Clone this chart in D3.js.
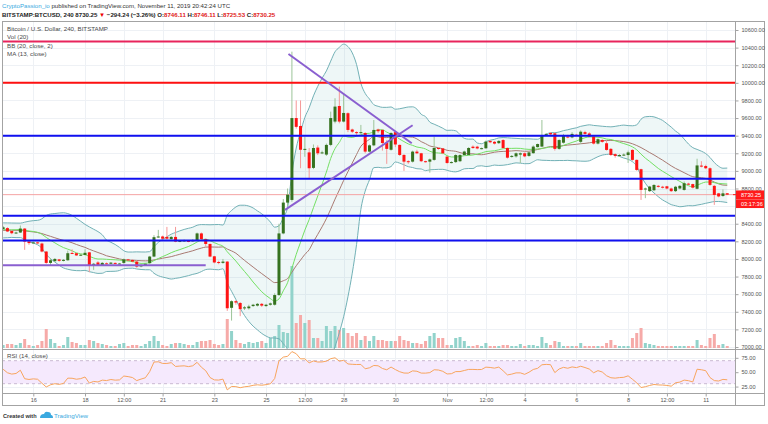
<!DOCTYPE html>
<html><head><meta charset="utf-8">
<script src="https://cdnjs.cloudflare.com/ajax/libs/d3/7.8.5/d3.min.js"></script>
<style>
body{margin:0;background:#fff}
svg{display:block}
text{font-family:"Liberation Sans",Arial,sans-serif}
</style>
</head><body>
<svg id="c" width="768" height="424"></svg>
<script>
// ---------------- DATA ----------------
// 4h candles, BITSTAMP:BTCUSD, first bar Oct 14 2019 20:00 UTC
const firstBarUTC = Date.UTC(2019, 9, 14, 20);
const barHours = 4;
const opens = [8340,8350,8318,8292,8300,8345,8197,8180,8188,8175,8084,7955,7975,7995,7978,7985,8068,8065,8040,8045,
8075,7920,7960,7930,7950,7945,7955,7945,7955,7995,7988,7970,7915,7930,7952,8027,8250,8255,8250,8225,
8250,8200,8205,8205,8200,8215,8290,8225,8170,8030,7965,7955,7970,7445,7520,7500,7440,7440,7465,7470,
7490,7465,7480,7480,7590,8290,8640,8670,9600,9510,9240,9210,9034,9265,9200,9185,9295,9560,9737,9560,
9655,9470,9440,9430,9430,9219,9290,9470,9465,9320,9240,9440,9295,9181,9110,9105,9219,9200,9110,9105,
9125,9260,9255,9162,9095,9100,9110,9180,9181,9275,9275,9255,9257,9340,9330,9315,9350,9260,9160,9165,
9185,9200,9170,9201,9270,9276,9410,9430,9427,9250,9320,9390,9380,9410,9330,9440,9425,9390,9310,9350,
9314,9250,9190,9170,9180,9180,9238,9125,9019,8790,8770,8780,8830,8820,8825,8800,8770,8800,8784,8855,
8850,8797,9060,9055,9030,8830,8745,8715,8746.11];
const highs = [8375,8360,8322,8310,8380,8350,8205,8200,8195,8185,8090,8010,8010,8000,7998,8095,8110,8070,8055,8110,
8080,7955,7975,7965,7960,7965,7960,7955,8005,8000,7995,7980,7940,7955,8035,8270,8330,8265,8364,8260,
8364,8215,8220,8215,8225,8300,8300,8230,8175,8035,7980,8000,7975,7530,7530,7510,7465,7480,7490,7500,
7500,7490,7505,7610,8400,8680,8800,10354,9800,9800,9390,9260,9300,9290,9230,9310,9673,9825,9957,9880,
9665,9480,9450,9522,9440,9300,9578,9480,9470,9350,9440,9445,9300,9190,9120,9230,9240,9205,9115,9140,
9390,9270,9260,9170,9110,9190,9190,9230,9270,9290,9285,9265,9345,9350,9340,9350,9360,9265,9180,9210,
9210,9210,9220,9290,9310,9578,9430,9440,9435,9360,9420,9410,9440,9420,9460,9455,9440,9400,9370,9360,
9345,9260,9200,9190,9200,9230,9245,9130,9025,8810,8830,8850,8840,8830,8830,8810,8830,8840,8880,8865,
8855,9138,9110,9070,9040,8840,8750,8790,8746.11];
const lows = [8330,8305,8280,8285,8295,8103,8160,8170,8172,8075,7945,7930,7965,7968,7972,7980,8055,8035,8035,8040,
7850,7876,7920,7925,7935,7940,7938,7940,7945,7978,7962,7900,7905,7925,7945,8020,8240,8225,8220,8220,
8190,8190,8195,8190,8195,8210,8215,8140,8020,7950,7940,7945,7410,7300,7480,7350,7420,7425,7455,7460,
7455,7455,7470,7470,7580,8280,8600,8650,9480,9030,9160,8920,9020,9180,9190,9170,9280,9540,9540,9550,
9440,9430,9410,9420,9200,9210,9280,9430,9230,9080,9230,9270,9170,9000,9080,9095,9190,9100,9095,8980,
9115,9240,9190,9080,9085,9090,9100,9170,9175,9250,9245,9245,9250,9315,9300,9305,9250,9140,9150,9150,
9090,9155,9160,9195,9265,9270,9400,9405,9230,9240,9310,9370,9370,9395,9305,9410,9380,9300,9300,9320,
9230,9170,9150,9160,9170,9090,9115,9000,8670,8690,8760,8770,8810,8800,8790,8760,8760,8790,8775,8840,
8800,8790,9040,9020,8830,8614,8700,8705,8725.53];
const closes = [8360,8312,8292,8300,8345,8197,8180,8188,8180,8084,7955,7985,8000,7978,7990,8065,8062,8040,8048,8070,
7921,7945,7930,7955,7945,7958,7945,7948,7995,7985,7970,7913,7930,7945,8027,8247,8255,8230,8230,8250,
8197,8205,8210,8200,8215,8290,8225,8170,8027,7960,7955,7970,7440,7520,7505,7430,7450,7460,7480,7490,
7470,7480,7495,7590,8290,8640,8730,9600,9500,9240,9250,9030,9260,9200,9210,9295,9600,9730,9560,9658,
9465,9445,9435,9440,9219,9290,9465,9450,9317,9250,9430,9300,9181,9105,9100,9219,9200,9110,9108,9130,
9260,9250,9200,9090,9100,9180,9180,9220,9260,9260,9255,9258,9332,9325,9310,9340,9260,9150,9170,9200,
9200,9165,9210,9276,9305,9408,9420,9415,9250,9350,9400,9380,9420,9405,9445,9420,9390,9310,9360,9330,
9238,9181,9170,9180,9185,9210,9125,9011,8784,8800,8822,8840,8820,8815,8800,8770,8820,8830,8860,8845,
8810,9062,9050,9030,8841,8727,8710,8745,8730.25];
const volumes = [600,800,800,600,1000,1800,600,400,600,1400,3800,1800,1000,400,600,2200,1200,1000,600,600,
1600,1400,1000,800,600,400,400,800,1000,400,600,600,400,800,1400,2400,1400,600,400,800,
1000,1000,800,600,600,1200,1400,1400,1600,800,600,800,5800,3400,1600,1000,800,1200,1000,1200,
1400,1000,2000,2400,4600,3200,3000,16400,5000,6600,5000,5600,2000,2000,1400,4400,3400,4400,3600,4000,
3000,2400,3000,1600,2400,1400,2400,1600,1600,1400,1400,1400,2400,1600,1400,1000,1000,800,1400,2400,
3000,2000,2000,600,600,2000,2200,1400,400,400,600,400,1000,400,400,400,600,600,400,400,
800,400,600,600,400,2200,1000,600,1400,1200,400,400,400,400,1000,400,400,400,400,400,
1000,1600,600,400,400,400,2000,3000,4000,1000,800,600,400,400,400,400,400,400,400,400,
400,1600,600,400,2000,2800,600,800,400];
// closes before the first visible bar (estimated), only used to warm up BB / MA / RSI
const priorCloses = [8290,8270,8330,8350,8320,8300,8290,8330,8310,8280,8300,8320,8290,8260,8310,8370,8420,8400,8380];

const priceTicks = [10600,10400,10200,10000,9800,9600,9400,9200,9000,8800,8600,8400,8200,8000,7800,7600,7400,7200,7000];
const hiddenPriceLabels = [8600]; // covered by the countdown label in the reference
const rsiTicks = [75,50,25];
const timeTickDates = [[2019,9,16,0],[2019,9,18,0],[2019,9,19,12],[2019,9,21,0],[2019,9,23,0],[2019,9,25,0],[2019,9,26,12],
  [2019,9,28,0],[2019,9,30,0],[2019,10,1,0],[2019,10,2,12],[2019,10,4,0],[2019,10,6,0],[2019,10,8,0],[2019,10,9,12],[2019,10,11,0]];
const timeTickLabels = ["16","18","12:00","21","23","25","12:00","28","30","Nov","12:00","4","6","8","12:00","11"];

// drawings
const levelPrices = [10470, 10000, 9400, 8910, 8490, 8210];
const supportSegment = {fromBar: -1, toBar: 47, price: 7927};
const trendLines = [ {fromBar: 66.2, fromPrice: 10328, toBar: 94.8, toPrice: 9314},
                     {fromBar: 65.4, fromPrice: 8557, toBar: 95.0, toPrice: 9518} ];
const lastPrice = 8730.25;
const countdown = "03:17:36";

// ---------------- LAYOUT ----------------
const svg = d3.select("#c");
const L = 2, R = 735, AX = 764, T = 21, PB = 349, RB = 393, B = 405;
const N = closes.length;
const barTime = i => new Date(firstBarUTC + i*barHours*3600e3);

const x = d3.scaleUtc().domain([new Date(Date.UTC(2019,9,16)), new Date(Date.UTC(2019,10,11))]).range([33.3, 705.7]);
const y = d3.scaleLinear().domain([7000, 10600]).range([347, 30]);
const yv = d3.scaleLinear().domain([0, d3.max(volumes)]).range([348, 266]);
const yr = d3.scaleLinear().domain([30, 70]).range([383.7, 360.7]);

// indicators
const all = priorCloses.concat(closes), P = priorCloses.length;
const bb = [], ma = [];
for (let i = 0; i < N; i++) {
  const j = i + P;
  const w = all.slice(Math.max(0, j-19), j+1);
  const m = d3.mean(w);
  const sd = Math.sqrt(d3.mean(w, v => (v-m)*(v-m)));
  bb.push({i, m, u: m + 2*sd, l: m - 2*sd});
  ma.push({i, v: d3.mean(all.slice(Math.max(0, j-12), j+1))});
}
const rsiAll = [];
let sg = 0, sl = 0, ag, al;
for (let k = 1; k < all.length; k++) {
  const ch = all[k] - all[k-1], g = Math.max(ch,0), l = Math.max(-ch,0);
  if (k <= 14) { sg += g; sl += l; if (k === 14) { ag = sg/14; al = sl/14; rsiAll[k] = 100 - 100/(1+ag/al); } }
  else { ag = (ag*13 + g)/14; al = (al*13 + l)/14; rsiAll[k] = al === 0 ? 100 : 100 - 100/(1+ag/al); }
}
const rsi = closes.map((c, i) => ({i, v: rsiAll[i+P]}));

// ---------------- DRAW ----------------
const grid = "#eef1f5";
svg.append("rect").attr("x",0).attr("y",0).attr("width",768).attr("height",424).attr("fill","#fff");

const defs = svg.append("defs");
defs.append("clipPath").attr("id","pc").append("rect").attr("x",L).attr("y",T).attr("width",R-L).attr("height",PB-T);
defs.append("clipPath").attr("id","rc").append("rect").attr("x",L).attr("y",PB).attr("width",R-L).attr("height",RB-PB);

// grid
const gG = svg.append("g");
timeTickDates.forEach(d => {
  const xx = Math.round(x(new Date(Date.UTC(...d)))) + 0.5;
  gG.append("line").attr("x1",xx).attr("x2",xx).attr("y1",T).attr("y2",RB).attr("stroke",grid);
});
priceTicks.forEach(p => {
  const yy = Math.round(y(p)) + 0.5;
  gG.append("line").attr("x1",L).attr("x2",R).attr("y1",yy).attr("y2",yy).attr("stroke",grid);
});
rsiTicks.forEach(p => {
  const yy = Math.round(yr(p)) + 0.5;
  gG.append("line").attr("x1",L).attr("x2",R).attr("y1",yy).attr("y2",yy).attr("stroke",grid);
});

const pane = svg.append("g").attr("clip-path","url(#pc)");
const cx = i => x(barTime(i));

// BB fill
pane.append("path").datum(bb)
  .attr("d", d3.area().x(d => cx(d.i)).y0(d => y(d.l)).y1(d => y(d.u)).curve(d3.curveMonotoneX))
  .attr("fill","rgba(120,190,195,0.13)");

// volume
pane.selectAll("rect.vol").data(volumes).join("rect").attr("class","vol")
  .attr("x",(v,i) => cx(i)-1.5).attr("width",3)
  .attr("y", v => yv(v)).attr("height", v => 348 - yv(v))
  .attr("fill",(v,i) => closes[i] >= opens[i] ? "#92d3cb" : "#f6aaa8");

// BB lines
const ln = acc => d3.line().x(d => cx(d.i)).y(acc).curve(d3.curveMonotoneX);
pane.append("path").datum(bb).attr("d", ln(d => y(d.u))).attr("fill","none").attr("stroke","#72b1b6").attr("stroke-width",1);
pane.append("path").datum(bb).attr("d", ln(d => y(d.l))).attr("fill","none").attr("stroke","#72b1b6").attr("stroke-width",1);
pane.append("path").datum(bb).attr("d", ln(d => y(d.m))).attr("fill","none").attr("stroke","#a97a72").attr("stroke-width",1);
pane.append("path").datum(ma).attr("d", ln(d => y(d.v))).attr("fill","none").attr("stroke","#74e064").attr("stroke-width",1);

// last price line
pane.append("line").attr("x1",L).attr("x2",R).attr("y1",y(lastPrice)).attr("y2",y(lastPrice))
  .attr("stroke","#f5a3a3").attr("stroke-width",1);

// candles
const cg = pane.append("g");
closes.forEach((c, i) => {
  const up = c >= opens[i];
  const xx = cx(i);
  cg.append("line").attr("x1",xx).attr("x2",xx).attr("y1",y(highs[i])).attr("y2",y(lows[i]))
    .attr("stroke", up ? "#9cc498" : "#f59898").attr("stroke-width",1);
  const top = y(Math.max(c, opens[i])), bot = y(Math.min(c, opens[i]));
  cg.append("rect").attr("x",xx-1.5).attr("width",3).attr("y",top).attr("height",Math.max(1,bot-top))
    .attr("fill", up ? "#35721f" : "#ff1414");
});

// drawings
const levelColors = ["#e8245c","#ff1010","#1010f0","#1010f0","#1010f0","#1010f0"];
levelPrices.forEach((p, k) => {
  pane.append("line").attr("x1",L).attr("x2",R).attr("y1",y(p)).attr("y2",y(p))
    .attr("stroke",levelColors[k]).attr("stroke-width",2);
});
pane.append("line").attr("x1",cx(supportSegment.fromBar)).attr("x2",cx(supportSegment.toBar))
  .attr("y1",y(supportSegment.price)).attr("y2",y(supportSegment.price))
  .attr("stroke","#8a5fd0").attr("stroke-width",2);
trendLines.forEach(t => {
  pane.append("line").attr("x1",cx(t.fromBar)).attr("y1",y(t.fromPrice))
    .attr("x2",cx(t.toBar)).attr("y2",y(t.toPrice))
    .attr("stroke","#8a5fd0").attr("stroke-width",2);
});

// RSI pane
const rp = svg.append("g").attr("clip-path","url(#rc)");
rp.append("rect").attr("x",L).attr("width",R-L).attr("y",yr(70)).attr("height",yr(30)-yr(70)).attr("fill","#f5e9fd");
[70,30].forEach(v => rp.append("line").attr("x1",L).attr("x2",R).attr("y1",yr(v)).attr("y2",yr(v))
  .attr("stroke","#c9b9d2").attr("stroke-dasharray","3,3"));
rp.append("path").datum(rsi).attr("d", d3.line().x(d => cx(d.i)).y(d => yr(d.v)))
  .attr("fill","none").attr("stroke","#f8a55e").attr("stroke-width",1);

// frame
const fr = svg.append("g").attr("stroke","#a3a3a3").attr("fill","none");
fr.append("rect").attr("x",L+0.5).attr("y",T+0.5).attr("width",AX-L).attr("height",B-T);
fr.append("line").attr("x1",R+0.5).attr("x2",R+0.5).attr("y1",T).attr("y2",B);
fr.append("line").attr("x1",L).attr("x2",AX).attr("y1",PB+0.5).attr("y2",PB+0.5);
fr.append("line").attr("x1",L).attr("x2",AX).attr("y1",RB+0.5).attr("y2",RB+0.5);

// price axis
const pa = svg.append("g").attr("transform",`translate(${R+0.5},0)`)
  .call(d3.axisRight(y).tickValues(priceTicks)
    .tickFormat(d => hiddenPriceLabels.includes(d) ? "" : d3.format(".2f")(d)).tickSize(3).tickPadding(3));
pa.select(".domain").remove();
pa.selectAll("line").attr("stroke","#a3a3a3");
pa.selectAll("text").attr("fill","#555").attr("font-size","5.6px").attr("font-family","Liberation Sans, Arial, sans-serif");

const ra = svg.append("g").attr("transform",`translate(${R+0.5},0)`)
  .call(d3.axisRight(yr).tickValues(rsiTicks).tickFormat(d3.format(".2f")).tickSize(3).tickPadding(3));
ra.select(".domain").remove();
ra.selectAll("line").attr("stroke","#a3a3a3");
ra.selectAll("text").attr("fill","#555").attr("font-size","5.6px").attr("font-family","Liberation Sans, Arial, sans-serif");

// last price labels
svg.append("rect").attr("x",R+1).attr("y",y(lastPrice)-4.2).attr("width",AX-R-1).attr("height",9).attr("fill","#ff1a1a");
svg.append("rect").attr("x",R+1).attr("y",y(lastPrice)+4.8).attr("width",AX-R-1).attr("height",8.6).attr("fill","#ff1a1a");
svg.append("line").attr("x1",R-2).attr("x2",R+1).attr("y1",y(lastPrice)).attr("y2",y(lastPrice)).attr("stroke","#ff1a1a");
svg.append("text").attr("x",R+6).attr("y",y(lastPrice)+2).attr("fill","#fff").attr("font-size","5.6px").text(d3.format(".2f")(lastPrice));
svg.append("text").attr("x",R+6).attr("y",y(lastPrice)+11).attr("fill","#fff").attr("font-size","5.6px").text(countdown);

// time axis
const ta = svg.append("g").attr("transform",`translate(0,${RB+0.5})`)
  .call(d3.axisBottom(x).tickValues(timeTickDates.map(d => new Date(Date.UTC(...d))))
    .tickFormat((d,k) => timeTickLabels[k]).tickSize(3).tickPadding(2));
ta.select(".domain").remove();
ta.selectAll("line").attr("stroke","#a3a3a3");
ta.selectAll("text").attr("fill","#555").attr("font-size","5.6px").attr("font-family","Liberation Sans, Arial, sans-serif");

// legends
const lg = svg.append("g").attr("fill","#4a4a4a").attr("font-size","6.2px");
lg.append("text").attr("x",7).attr("y",30.5).text("Bitcoin / U.S. Dollar, 240, BITSTAMP");
lg.append("text").attr("x",7).attr("y",39).text("Vol (20)");
lg.append("text").attr("x",7).attr("y",48).text("BB (20, close, 2)");
lg.append("text").attr("x",7).attr("y",55.5).text("MA (13, close)");
lg.append("text").attr("x",7).attr("y",358).text("RSI (14, close)");

// header
const h1 = svg.append("text").attr("x",2).attr("y",8).attr("font-size","6.1px").attr("fill","#333");
h1.append("tspan").attr("fill","#3aa9e0").text("CryptoPassion_io");
h1.append("tspan").text(" published on TradingView.com, November 11, 2019 20:42:24 UTC");
const h2 = svg.append("text").attr("x",2).attr("y",16.5).attr("font-size","6.1px").attr("font-weight","bold").attr("fill","#222");
h2.append("tspan").text("BITSTAMP:BTCUSD, 240 8730.25 ");
h2.append("tspan").attr("fill","#e00").text("▼");
h2.append("tspan").text(" −294.24 (−3.26%) O:");
h2.append("tspan").attr("fill","#e02020").text("8746.11");
h2.append("tspan").text(" H:");
h2.append("tspan").attr("fill","#e02020").text("8746.11");
h2.append("tspan").text(" L:");
h2.append("tspan").attr("fill","#e02020").text("8725.53");
h2.append("tspan").text(" C:");
h2.append("tspan").attr("fill","#e02020").text("8730.25");

// footer
svg.append("text").attr("x",3).attr("y",418).attr("font-size","5.6px").attr("font-weight","bold").attr("fill","#333").text("Created with");
svg.append("path").attr("d","M40,418 q0,-4 4,-4 q1,-3 4,-2 q3,0 3,3 q2,0 2,3 z").attr("fill","#3aa9e0");
svg.append("text").attr("x",54).attr("y",418).attr("font-size","6.2px").attr("fill","#3aa9e0").text("TradingView");
</script>
</body></html>
